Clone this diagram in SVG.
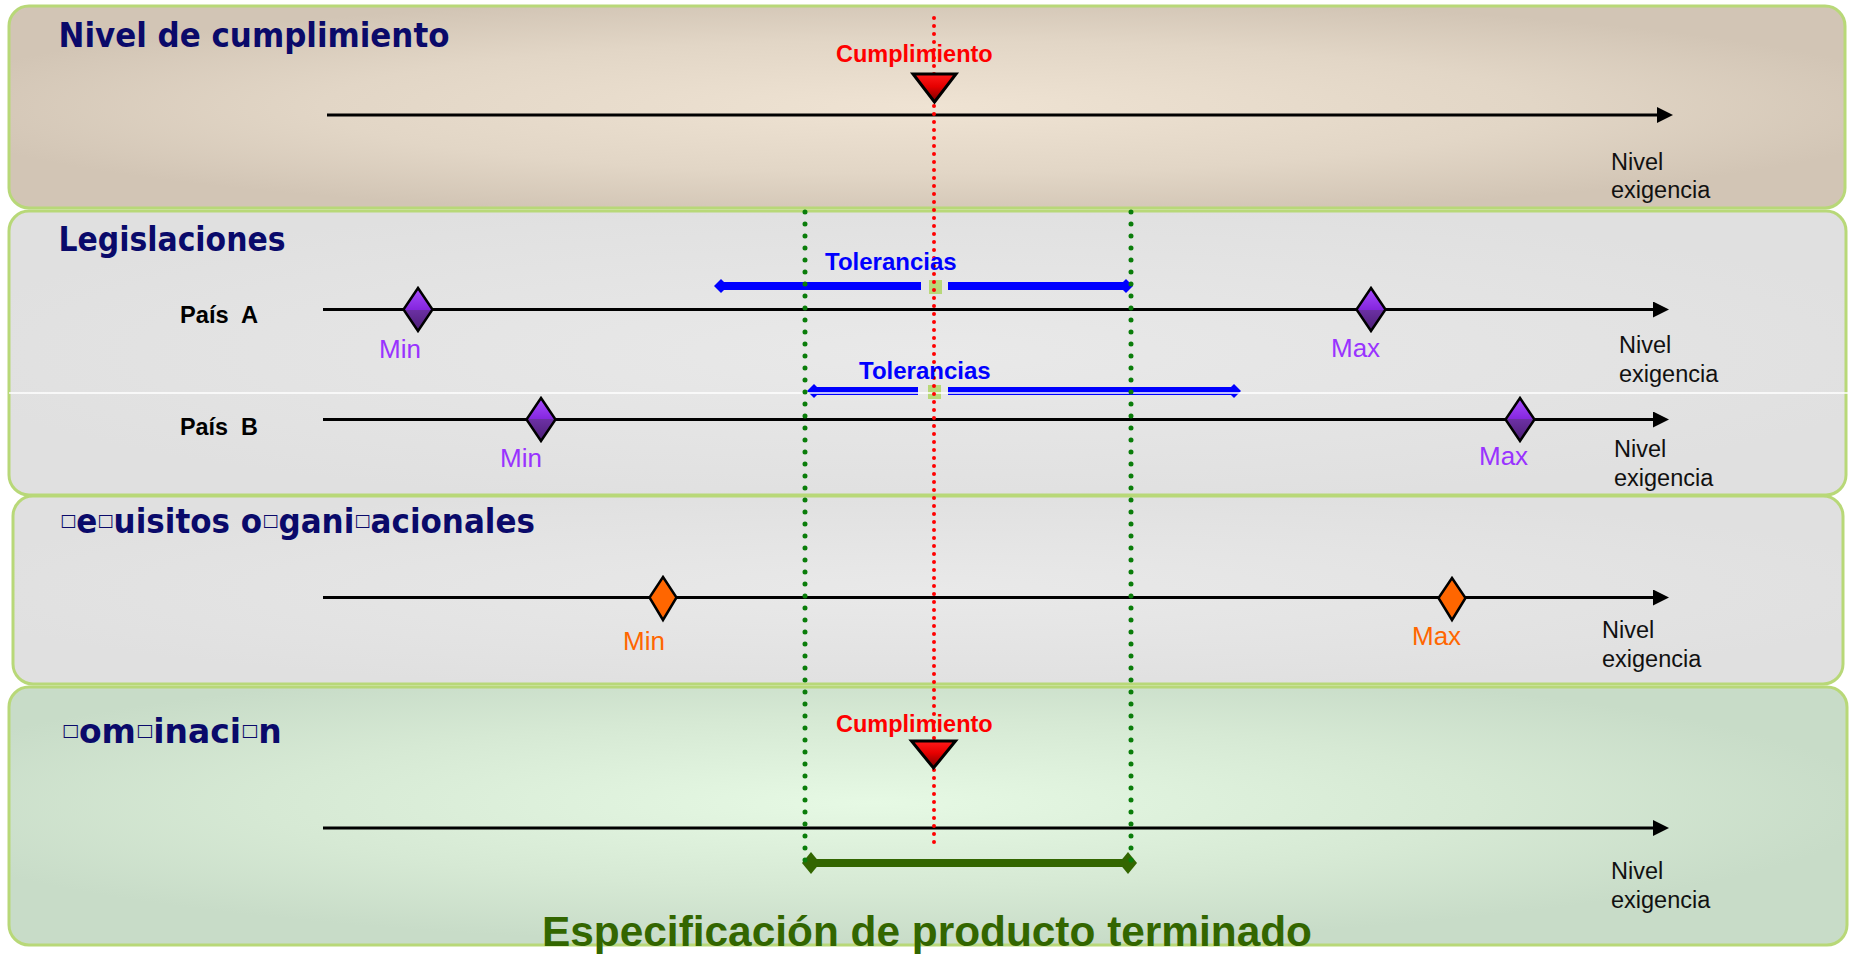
<svg xmlns="http://www.w3.org/2000/svg" width="1849" height="954" viewBox="0 0 1849 954">
  <style>
    .panel { stroke: #b8d878; stroke-width: 3; }
    .title { font-family: "DejaVu Sans Condensed", "DejaVu Sans", sans-serif; font-weight: bold; font-size: 34px; fill: #0a0a6a; }
    .box { font-family: "DejaVu Sans", sans-serif; font-weight: normal; font-size: 17px; }
    .axis { stroke: #000; stroke-width: 3; fill: none; }
    .lvl { font-family: "Liberation Sans", Arial, sans-serif; font-size: 23.5px; fill: #111; }
    .pais { font-family: "Liberation Sans", Arial, sans-serif; font-weight: bold; font-size: 24px; fill: #000; }
    .pur { font-family: "Liberation Sans", Arial, sans-serif; font-size: 26px; fill: #9933ff; }
    .org { font-family: "Liberation Sans", Arial, sans-serif; font-size: 26px; fill: #ff6600; }
    .cump { font-family: "Liberation Sans", Arial, sans-serif; font-weight: bold; font-size: 23.5px; fill: #ff0000; }
    .tol { font-family: "Liberation Sans", Arial, sans-serif; font-weight: bold; font-size: 24px; fill: #0000ff; }
    .dpur { fill: url(#gPur); stroke: #000; stroke-width: 2.5; }
    .dorg { fill: #ff6600; stroke: #000; stroke-width: 2.5; }
    .tri { fill: url(#gRed); stroke: #000; stroke-width: 3; stroke-linejoin: miter; }
    .reddot { stroke: #ff0000; stroke-width: 4; stroke-linecap: round; stroke-dasharray: 0 8; fill: none; }
    .grndot { stroke: #0a7d0a; stroke-width: 5; stroke-linecap: round; stroke-dasharray: 0 12; fill: none; }
    .bluebar { stroke: #0000ff; stroke-width: 8; }
    .bluetip { fill: #0000ff; }
    .sq { fill: #b8d878; }
  </style>
  <defs>
    <radialGradient id="gP1" cx="0.5" cy="0.5" r="0.55">
      <stop offset="0" stop-color="#efe3d3"/>
      <stop offset="0.6" stop-color="#e2d6c6"/>
      <stop offset="1" stop-color="#d2c5b5"/>
    </radialGradient>
    <radialGradient id="gGray" cx="0.5" cy="0.5" r="0.55">
      <stop offset="0" stop-color="#e9e9e9"/>
      <stop offset="1" stop-color="#e0e0e0"/>
    </radialGradient>
    <radialGradient id="gGrn" cx="0.47" cy="0.45" r="0.55">
      <stop offset="0" stop-color="#e6f9e4"/>
      <stop offset="0.6" stop-color="#d6e9d4"/>
      <stop offset="1" stop-color="#c8dcc8"/>
    </radialGradient>
    <linearGradient id="gPur" x1="0" y1="0" x2="0" y2="1">
      <stop offset="0" stop-color="#a84dff"/>
      <stop offset="0.5" stop-color="#8426de"/>
      <stop offset="0.5" stop-color="#6c30a4"/>
      <stop offset="1" stop-color="#4c1e76"/>
    </linearGradient>
    <linearGradient id="gRed" x1="0" y1="0" x2="0" y2="1">
      <stop offset="0" stop-color="#ff1a1a"/>
      <stop offset="0.45" stop-color="#e60000"/>
      <stop offset="1" stop-color="#7a0000"/>
    </linearGradient>
    <marker id="arr" markerUnits="userSpaceOnUse" markerWidth="18" markerHeight="18" refX="12" refY="8" orient="auto">
      <path d="M0,0 L16,8 L0,16 z" fill="#000"/>
    </marker>
  </defs>

  <rect x="0" y="0" width="1849" height="954" fill="#ffffff"/>

  <!-- Panels -->
  <g id="panel-cumplimiento">
    <rect class="panel" x="9" y="6" width="1836" height="202" rx="20" ry="20" fill="url(#gP1)"/>
    <text class="title" x="58.5" y="46.7" textLength="391" lengthAdjust="spacingAndGlyphs">Nivel de cumplimiento</text>
  </g>
  <g id="panel-legislaciones">
    <rect class="panel" x="9" y="211" width="1837" height="284" rx="20" ry="20" fill="url(#gGray)"/>
    <text class="title" x="58.5" y="250.7" textLength="227" lengthAdjust="spacingAndGlyphs">Legislaciones</text>
  </g>
  <g id="panel-requisitos">
    <rect class="panel" x="13" y="496" width="1830" height="188" rx="20" ry="20" fill="url(#gGray)"/>
    <text class="title" x="60" y="533.3" textLength="475" lengthAdjust="spacingAndGlyphs"><tspan class="box" baseline-shift="7px">□</tspan>e<tspan class="box" baseline-shift="7px">□</tspan>uisitos o<tspan class="box" baseline-shift="7px">□</tspan>gani<tspan class="box" baseline-shift="7px">□</tspan>acionales</text>
  </g>
  <g id="panel-combinacion">
    <rect class="panel" x="9" y="687" width="1838" height="258" rx="20" ry="20" fill="url(#gGrn)"/>
    <text class="title" x="61.7" y="743.3" textLength="220" lengthAdjust="spacingAndGlyphs"><tspan class="box" baseline-shift="7px">□</tspan>om<tspan class="box" baseline-shift="7px">□</tspan>inaci<tspan class="box" baseline-shift="7px">□</tspan>n</text>
  </g>

  <!-- Axes and connectors -->
  <g id="connectors">
    <line class="axis" x1="327" y1="115" x2="1669" y2="115" marker-end="url(#arr)"/>
    <line class="axis" x1="323" y1="309.5" x2="1665" y2="309.5" marker-end="url(#arr)"/>
    <line class="axis" x1="323" y1="419.5" x2="1665" y2="419.5" marker-end="url(#arr)"/>
    <line class="axis" x1="323" y1="597.5" x2="1665" y2="597.5" marker-end="url(#arr)"/>
    <line class="axis" x1="323" y1="828" x2="1665" y2="828" marker-end="url(#arr)"/>

    <!-- Tolerancias bar A -->
    <line class="bluebar" x1="720" y1="286" x2="921" y2="286"/>
    <line class="bluebar" x1="948" y1="286" x2="1127" y2="286"/>
    <polygon class="bluetip" points="714,286 721,279 728,286 721,293"/>
    <polygon class="bluetip" points="1133,286 1126,279 1119,286 1126,293"/>
    <rect class="sq" x="929" y="280" width="13" height="14"/>

    <!-- Tolerancias bar B -->
    <line class="bluebar" x1="813" y1="391" x2="918" y2="391"/>
    <line class="bluebar" x1="948" y1="391" x2="1235" y2="391"/>
    <polygon class="bluetip" points="807,391 814,384 821,391 814,398"/>
    <polygon class="bluetip" points="1241,391 1234,384 1227,391 1234,398"/>
    <rect class="sq" x="928" y="385" width="13" height="14"/>

    <!-- separator inside Legislaciones -->
    <line x1="9" y1="393" x2="1849" y2="393" stroke="#ffffff" stroke-width="1.5"/>

    <!-- Specification bar -->
    <line x1="810" y1="863" x2="1129" y2="863" stroke="#336600" stroke-width="8"/>
    <polygon points="802,863 811,852 820,863 811,874" fill="#336600"/>
    <polygon points="1137,863 1128,852 1119,863 1128,874" fill="#336600"/>

    <!-- dotted guides -->
    <line class="grndot" x1="805" y1="212" x2="805" y2="871"/>
    <line class="grndot" x1="1131" y1="212" x2="1131" y2="871"/>
    <line class="reddot" x1="934" y1="18" x2="934" y2="843"/>
  </g>

  <!-- Nivel de cumplimiento content -->
  <g id="cumplimiento-top">
    <text class="cump" x="836" y="62">Cumplimiento</text>
    <polygon class="tri" points="913,74 956,74 934.5,102"/>
  </g>
  <g id="nivel-1">
    <text class="lvl" x="1611" y="170">Nivel</text>
    <text class="lvl" x="1611" y="198">exigencia</text>
  </g>

  <!-- Pais A -->
  <g id="pais-a">
    <text class="pais" x="180" y="323" xml:space="preserve" textLength="78" lengthAdjust="spacingAndGlyphs">País  A</text>
    <polygon class="dpur" points="418,288 432.5,309.5 418,331 403.5,309.5"/>
    <text class="pur" x="379" y="358">Min</text>
    <polygon class="dpur" points="1371,288 1385.5,309.5 1371,331 1356.5,309.5"/>
    <text class="pur" x="1331" y="357">Max</text>
    <text class="tol" x="825" y="270">Tolerancias</text>
    <text class="lvl" x="1619" y="353">Nivel</text>
    <text class="lvl" x="1619" y="382">exigencia</text>
  </g>

  <!-- Pais B -->
  <g id="pais-b">
    <text class="pais" x="180" y="435" xml:space="preserve" textLength="78" lengthAdjust="spacingAndGlyphs">País  B</text>
    <polygon class="dpur" points="541,398 555.5,419.5 541,441 526.5,419.5"/>
    <text class="pur" x="500" y="467">Min</text>
    <polygon class="dpur" points="1520,398 1534.5,419.5 1520,441 1505.5,419.5"/>
    <text class="pur" x="1479" y="465">Max</text>
    <text class="tol" x="859" y="379">Tolerancias</text>
    <text class="lvl" x="1614" y="457">Nivel</text>
    <text class="lvl" x="1614" y="486">exigencia</text>
  </g>

  <!-- Requisitos -->
  <g id="requisitos">
    <polygon class="dorg" points="663,577 676.5,597.5 663,620 649.5,597.5"/>
    <text class="org" x="623" y="650">Min</text>
    <polygon class="dorg" points="1452,578 1465.5,598 1452,620 1438.5,598"/>
    <text class="org" x="1412" y="645">Max</text>
    <text class="lvl" x="1602" y="638">Nivel</text>
    <text class="lvl" x="1602" y="667">exigencia</text>
  </g>

  <!-- Combinacion -->
  <g id="combinacion">
    <text class="cump" x="836" y="732">Cumplimiento</text>
    <polygon class="tri" points="911.5,741 955.5,741 933.5,768"/>
    <text class="lvl" x="1611" y="879">Nivel</text>
    <text class="lvl" x="1611" y="908">exigencia</text>
  </g>

  <g id="especificacion">
    <text x="542" y="946" textLength="770" lengthAdjust="spacingAndGlyphs" style="font-family: 'Liberation Sans', Arial, sans-serif; font-weight: bold; font-size: 42px; fill: #336600;">Especificación de producto terminado</text>
  </g>
</svg>
